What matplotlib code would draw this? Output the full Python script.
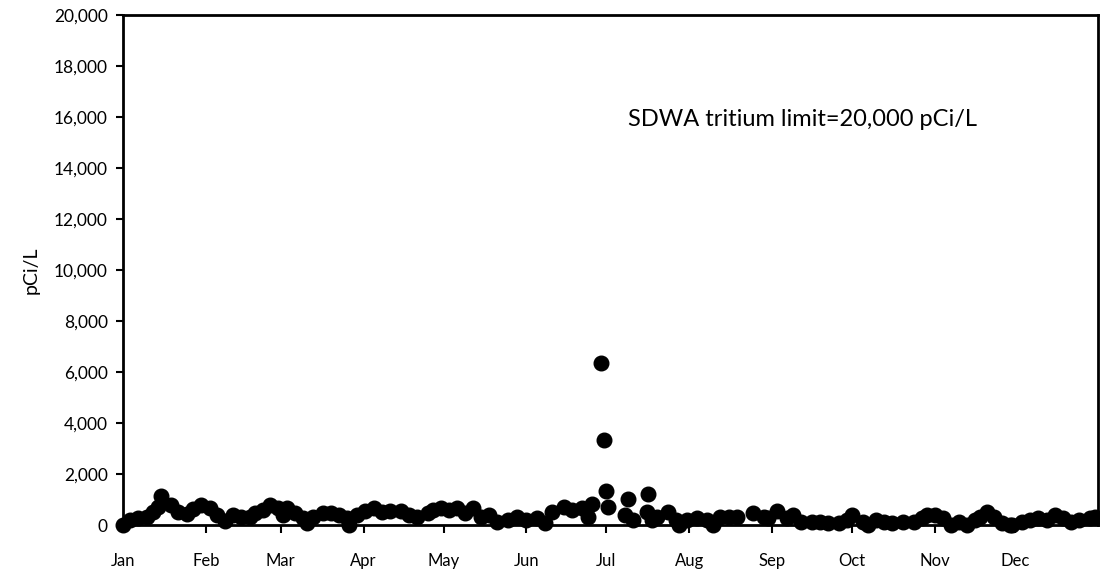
import matplotlib
matplotlib.use("Agg")
from matplotlib import pyplot as plt
import numpy as np

# sample day of year and tritium concentration (pCi/L)
days = [0, 2.6, 5.6, 9, 11, 13, 14, 18, 20.6, 24, 26, 29, 32.6, 35, 38, 41, 44,
        47.5, 49.4, 52.4, 55, 58, 60, 61.4, 64.4, 67.4, 69, 71, 75, 78, 81, 84,
        84.5, 87.6, 90.6, 94, 97, 100, 104, 107, 110, 114, 116, 119, 122, 125,
        128, 131, 134, 137, 140, 144, 147.5, 151, 155, 158, 160.6, 165, 168,
        172, 174, 175.6, 179, 180, 181, 181.6, 188, 189, 191, 196, 196.6, 198,
        200, 204, 207, 208, 211, 215, 218.6, 221, 223.5, 227, 230, 236, 240,
        241.5, 245, 248.6, 251, 254, 258, 261, 264, 268, 271, 273, 277, 279,
        282, 285, 288, 292, 296, 299, 301, 304, 307, 310, 313, 316, 319, 321,
        323.5, 326, 329, 332, 333, 336.6, 339.6, 342.6, 346, 349, 352, 355,
        358, 362, 364]
values = [0, 200, 270, 300, 500, 700, 1150, 780, 500, 430, 630, 780, 660, 400,
          160, 400, 320, 320, 470, 590, 780, 660, 400, 660, 470, 270, 80, 300,
          470, 470, 400, 270, 0, 400, 550, 660, 510, 550, 550, 400, 320, 470,
          590, 660, 590, 660, 470, 660, 320, 400, 120, 200, 320, 200, 270, 80,
          510, 700, 590, 660, 320, 820, 6350, 3330, 1330, 700, 400, 1020, 200,
          510, 1220, 200, 320, 510, 200, 0, 200, 270, 200, 0, 320, 320, 320,
          470, 320, 270, 560, 270, 400, 120, 120, 120, 80, 80, 200, 400, 120,
          0, 200, 120, 80, 120, 120, 270, 400, 400, 270, 0, 120, 0, 200, 320,
          510, 320, 80, 0, 0, 120, 200, 270, 200, 400, 270, 120, 200, 270, 320]

month_starts = [0, 31, 59, 90, 120, 151, 181, 212, 243, 273, 304, 334]
month_labels = ["Jan", "Feb", "Mar", "Apr", "May", "Jun",
                "Jul", "Aug", "Sep", "Oct", "Nov", "Dec"]
y_ticks = list(range(0, 20001, 2000))

plt.rcParams['font.family'] = ['Lato', 'DejaVu Sans']

fig = plt.figure(figsize=(11, 5.69), dpi=100)
ax = fig.add_axes([0.112, 0.0773, 0.886, 0.8963])

ax.plot(days, values, 'o', color='black', markersize=10.5, clip_on=False, zorder=5)

ax.set_xlim(0, 365)
ax.set_ylim(0, 20000)
ax.set_xticks(month_starts)
ax.set_xticklabels(month_labels, fontsize=12)
ax.set_yticks(y_ticks)
ax.set_yticklabels([f"{v:,}" for v in y_ticks], fontsize=12.5)
ax.tick_params(direction='out', length=5, width=1.5, pad=6, color='black')
ax.tick_params(axis='x', length=6, pad=14)
for s in ax.spines.values():
    s.set_linewidth(2)
ax.set_ylabel("pCi/L", fontsize=14, labelpad=10)

ax.text(189, 15900, "SDWA tritium limit=20,000 pCi/L", fontsize=17,
        va='center', ha='left')

plt.savefig("out.png", dpi=100)
